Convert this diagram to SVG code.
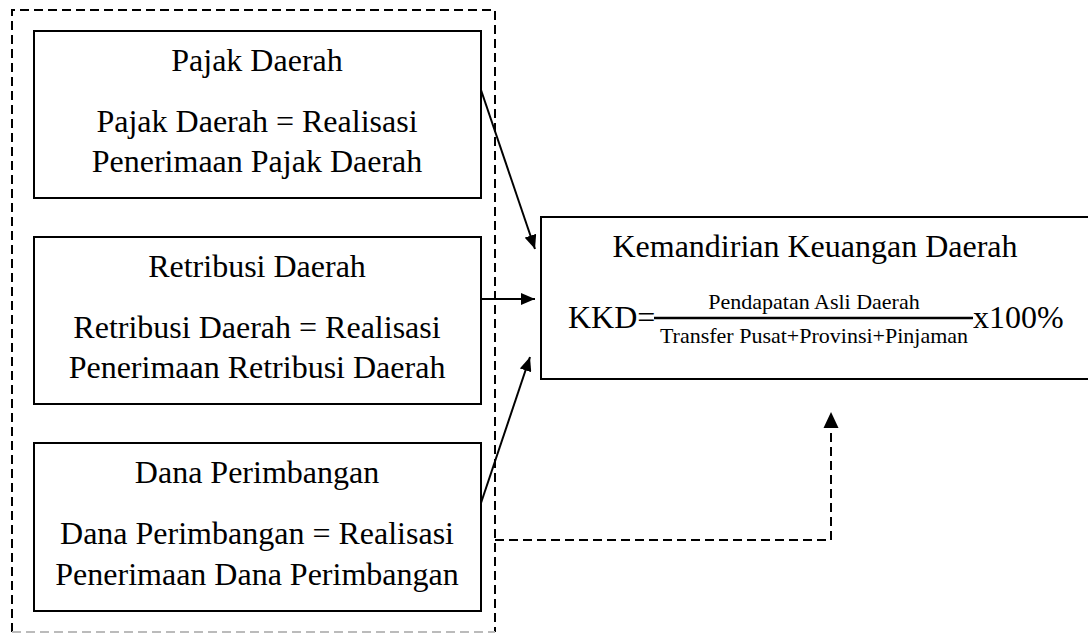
<svg xmlns="http://www.w3.org/2000/svg" width="1088" height="633" viewBox="0 0 1088 633">
<style>
.box{fill:#fff;stroke:#000;stroke-width:2}
text{font-family:'Liberation Serif','Times New Roman',Times,serif;font-size:32px;fill:#000}
.c{text-anchor:middle}
.s{font-size:22px}
.dash{fill:none;stroke:#000;stroke-width:2;stroke-dasharray:9,5}
.arr{fill:none;stroke:#000;stroke-width:2;marker-end:url(#ah)}
</style>
<defs>
<marker id="ah" viewBox="0 0 14 12" refX="14" refY="6" markerWidth="14" markerHeight="12" markerUnits="userSpaceOnUse" orient="auto">
<path d="M0,0 L14,6 L0,12 Z" fill="#000"/>
</marker>
</defs>
<rect width="1088" height="633" fill="#fff"/>
<g id="frame">
<path class="dash" d="M12,632 V10 H495 V632"/>
<path d="M12,632 H495" fill="none" stroke="#bbb" stroke-width="2" stroke-dasharray="9,5"/>
</g>
<g id="pajak" font-family="Liberation Serif, serif">
<rect class="box" x="34" y="31" width="447" height="167"/>
<text class="c" x="257" y="71">Pajak Daerah</text>
<text class="c" x="257" y="132">Pajak Daerah = Realisasi</text>
<text class="c" x="257" y="172">Penerimaan Pajak Daerah</text>
</g>
<g id="retribusi">
<rect class="box" x="34" y="237" width="447" height="167"/>
<text class="c" x="257" y="277">Retribusi Daerah</text>
<text class="c" x="257" y="338">Retribusi Daerah = Realisasi</text>
<text class="c" x="257" y="378">Penerimaan Retribusi Daerah</text>
</g>
<g id="dana">
<rect class="box" x="34" y="443" width="447" height="168"/>
<text class="c" x="257" y="483">Dana Perimbangan</text>
<text class="c" x="257" y="544">Dana Perimbangan = Realisasi</text>
<text class="c" x="257" y="585">Penerimaan Dana Perimbangan</text>
</g>
<g id="kkd">
<rect class="box" x="541" y="217" width="560" height="162"/>
<text class="c" x="815" y="257">Kemandirian Keuangan Daerah</text>
<text x="568" y="328">KKD=</text>
<line x1="654" y1="318" x2="973" y2="318" stroke="#000" stroke-width="2.5"/>
<text class="s c" x="814" y="309">Pendapatan Asli Daerah</text>
<text class="s c" x="814" y="343">Transfer Pusat+Provinsi+Pinjaman</text>
<text x="973" y="328">x100%</text>
</g>
<g id="connectors">
<line class="arr" x1="481" y1="90" x2="535" y2="249"/>
<line class="arr" x1="481" y1="299" x2="535" y2="299"/>
<line class="arr" x1="481" y1="503" x2="530" y2="357"/>
<path class="dash" d="M495,540 H831 V428"/>
<path d="M831,412 L838.5,428 L823.5,428 Z" fill="#000"/>
</g>
</svg>
